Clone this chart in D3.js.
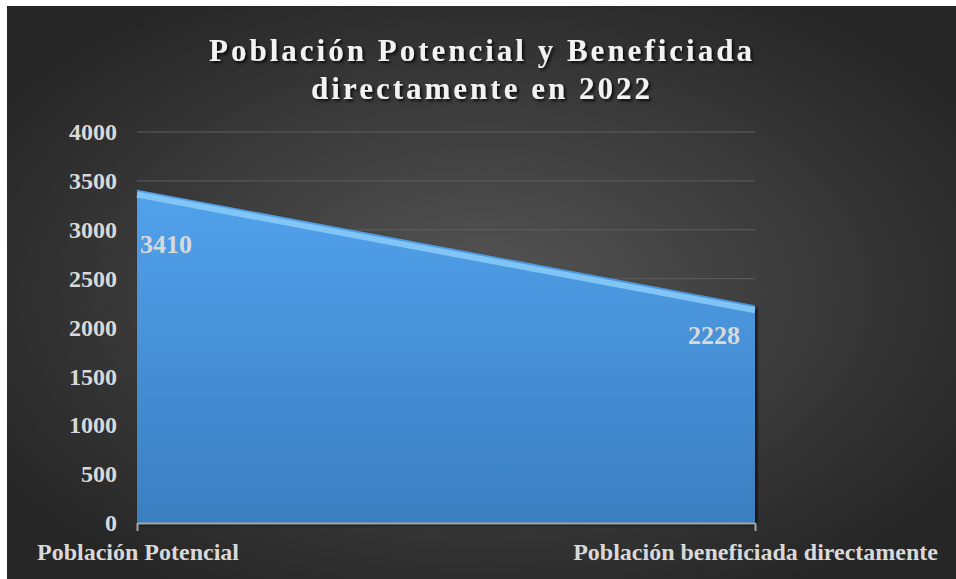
<!DOCTYPE html>
<html>
<head>
<meta charset="utf-8">
<script src="https://d3js.org/d3.v7.min.js"></script>
<style>
  body { margin: 0; background: #fff; }
  text { font-family: "Liberation Serif", "Times New Roman", serif; font-weight: bold; }
</style>
</head>
<body>
<script>
var categories = ["Población Potencial", "Población beneficiada directamente"];
var values = [3410, 2228];
var yTicks = [0, 500, 1000, 1500, 2000, 2500, 3000, 3500, 4000];
var titleLines = ["Población Potencial y Beneficiada", "directamente en 2022"];

var W = 956, H = 579;
var margin = {top: 132, right: 201, bottom: 56, left: 137};
var width = W - margin.left - margin.right;
var height = H - margin.top - margin.bottom;

var svg = d3.select("body").append("svg")
    .attr("width", W).attr("height", H);

var defs = svg.append("defs");
var bg = defs.append("radialGradient").attr("id", "bg")
    .attr("cx", "50%").attr("cy", "50%").attr("r", "60%");
bg.append("stop").attr("offset", "0%").attr("stop-color", "#555555");
bg.append("stop").attr("offset", "100%").attr("stop-color", "#262626");

var fillG = defs.append("linearGradient").attr("id", "fillG")
    .attr("x1", 0).attr("y1", 0).attr("x2", 0).attr("y2", 1);
fillG.append("stop").attr("offset", "0%").attr("stop-color", "#52a2ec");
fillG.append("stop").attr("offset", "100%").attr("stop-color", "#3a7ec0");

var shadow = defs.append("filter").attr("id", "shadow")
    .attr("x", "-10%").attr("y", "-10%").attr("width", "120%").attr("height", "130%");
shadow.append("feDropShadow").attr("dx", 2).attr("dy", 2)
    .attr("stdDeviation", 1.5).attr("flood-color", "#000").attr("flood-opacity", 0.8);

svg.append("rect")
    .attr("x", 7).attr("y", 6)
    .attr("width", W - 7).attr("height", H - 6)
    .attr("fill", "url(#bg)");

var g = svg.append("g")
    .attr("transform", "translate(" + margin.left + "," + margin.top + ")");

var x = d3.scalePoint().domain(categories).range([0, width]);
var y = d3.scaleLinear().domain([0, 4000]).range([height, 0]);

// gridlines
g.selectAll(".grid").data(yTicks.filter(function(d) { return d > 0; }))
  .enter().append("line")
    .attr("x1", 0).attr("x2", width)
    .attr("y1", function(d) { return y(d); })
    .attr("y2", function(d) { return y(d); })
    .attr("stroke", "#5e5e5e").attr("stroke-width", 1);

// area
var data = categories.map(function(c, i) { return {cat: c, v: values[i]}; });
var area = d3.area()
    .x(function(d) { return x(d.cat); })
    .y0(height)
    .y1(function(d) { return y(d.v); });

g.append("path").datum(data)
    .attr("d", area)
    .attr("fill", "url(#fillG)")
    .attr("filter", "url(#shadow)");

// bevel highlight on the top edge
g.append("path").datum(data)
    .attr("d", d3.line()
        .x(function(d) { return x(d.cat); })
        .y(function(d) { return y(d.v) + 5; }))
    .attr("stroke", "#8fd0fb").attr("stroke-width", 6)
    .attr("fill", "none").attr("opacity", 0.8);

// value labels
g.selectAll(".val").data(data).enter().append("text")
    .attr("x", function(d, i) { return i === 0 ? x(d.cat) + 3 : x(d.cat) - 15; })
    .attr("y", function(d) { return y(d.v) + (d.v > 3000 ? 63 : 39); })
    .attr("text-anchor", function(d, i) { return i === 0 ? "start" : "end"; })
    .attr("fill", "#d9d9d9")
    .style("font-size", "26px")
    .text(function(d) { return d.v; });

// y axis
var yAxis = g.append("g")
    .call(d3.axisLeft(y).tickValues(yTicks).tickSize(0).tickPadding(20).tickFormat(d3.format("d")));
yAxis.select(".domain").remove();
yAxis.selectAll("text")
    .attr("fill", "#d9d9d9")
    .style("font-size", "24px");

// x axis
var xAxis = g.append("g")
    .attr("transform", "translate(0," + height + ")")
    .call(d3.axisBottom(x).tickSize(8).tickSizeOuter(0).tickFormat(""));
xAxis.select(".domain").attr("stroke", "#a6a6a6").attr("stroke-width", 2);
xAxis.selectAll(".tick line").attr("stroke", "#a6a6a6").attr("stroke-width", 2);

g.selectAll(".cat").data(categories).enter().append("text")
    .attr("x", function(d, i) { return i === 0 ? -100 : W - margin.left - 18; })
    .attr("y", height + 37)
    .attr("text-anchor", function(d, i) { return i === 0 ? "start" : "end"; })
    .attr("fill", "#d9d9d9")
    .style("font-size", "24px")
    .text(function(d) { return d; });

// title
svg.selectAll(".title").data(titleLines).enter().append("text")
    .attr("x", 482)
    .attr("y", function(d, i) { return 61 + i * 38; })
    .attr("text-anchor", "middle")
    .attr("fill", "#f2f2f2")
    .attr("filter", "url(#shadow)")
    .style("font-size", "31px")
    .style("letter-spacing", "3px")
    .text(function(d) { return d; });
</script>
</body>
</html>
